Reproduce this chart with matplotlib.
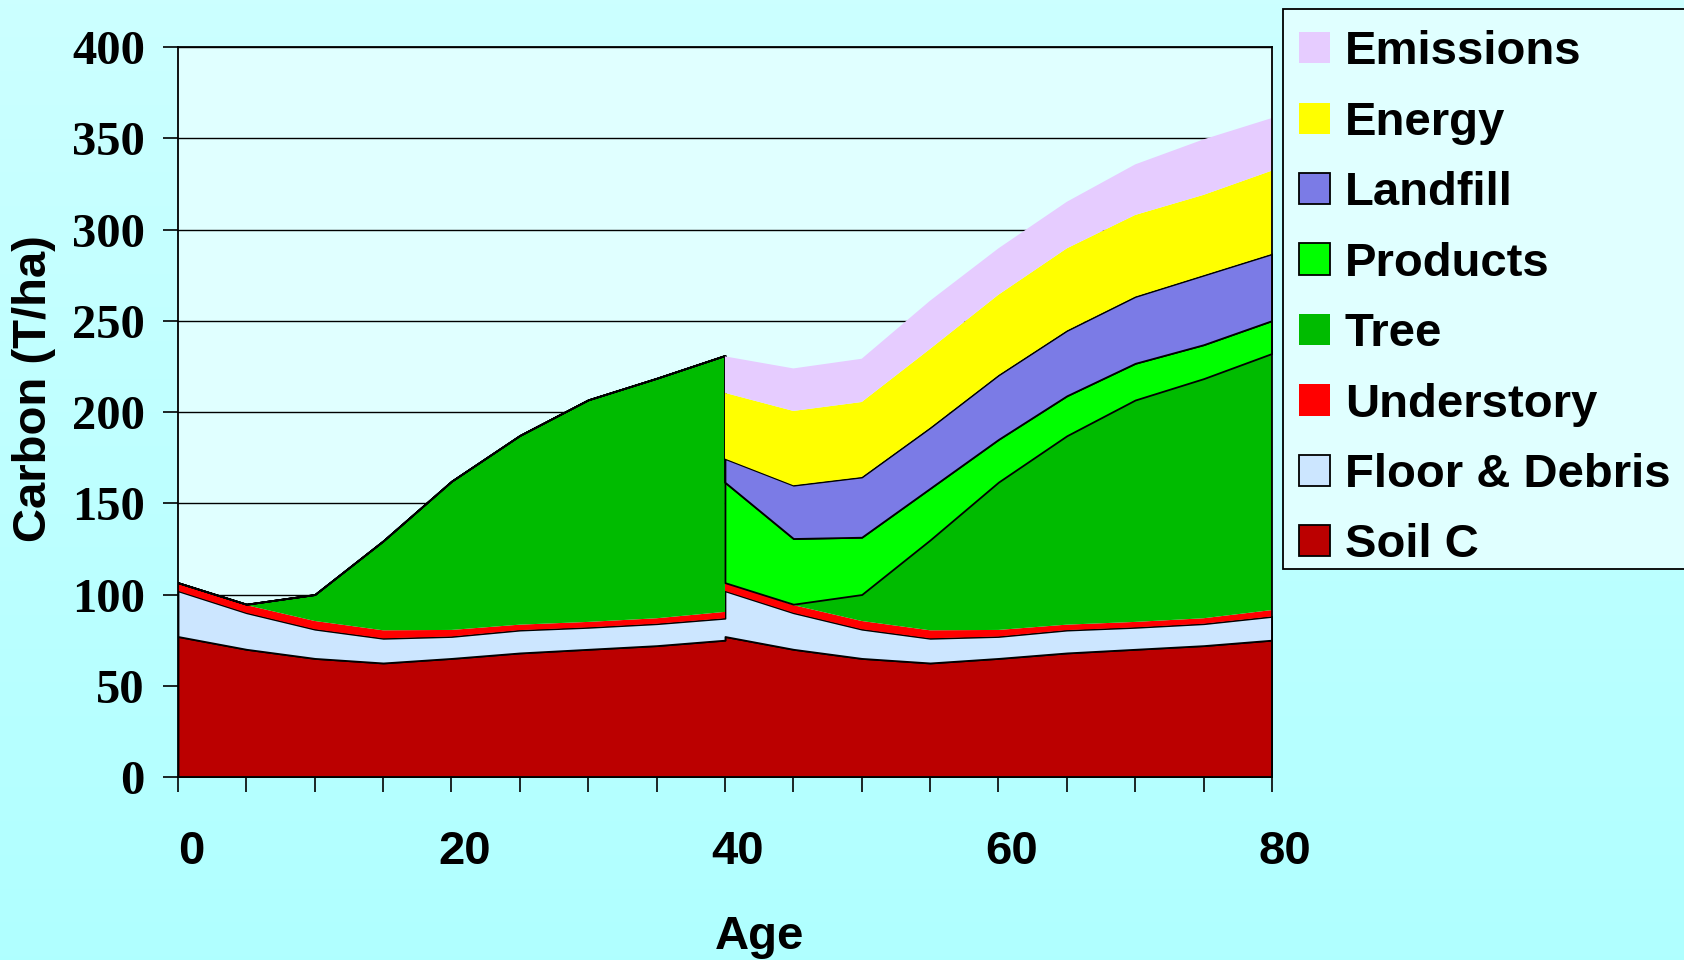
import numpy as np
import matplotlib
matplotlib.use("Agg")
import matplotlib.pyplot as plt
import matplotlib.transforms as mtransforms
from matplotlib.patches import Patch, Rectangle

# stand age, the harvest at 40 gives two points at the same age
ages = [0, 5, 10, 15, 20, 25, 30, 35, 40, 40, 45, 50, 55, 60, 65, 70, 75, 80]

soil = [77, 70, 65, 62.5, 65, 68, 70, 72, 75, 77, 70, 65, 62.5, 65, 68, 70, 72, 75]
floor = [25, 20, 16, 13.5, 12, 12.5, 12, 12, 12, 25, 20, 16, 13.5, 12, 12.5, 12, 12, 13]
understory = [4.5, 4.2, 4.5, 4.4, 3.6, 3, 3, 3, 3.5, 4.5, 4.2, 4.5, 4.4, 3.6, 3, 3, 3, 3.5]
tree = [0, 0.5, 14.5, 49, 81.5, 103.7, 121.7, 131.5, 140.5,
        0, 0.5, 14.5, 49.5, 81, 103.5, 121.6, 131.3, 140.6]
products = [0, 0, 0, 0, 0, 0, 0, 0, 0, 55, 36, 31.4, 28.3, 23.4, 21.9, 20.1, 18.6, 18]
landfill = [0, 0, 0, 0, 0, 0, 0, 0, 0, 13, 29.2, 33, 33.3, 35.3, 35.8, 36.6, 38.1, 36.6]
energy = [0, 0, 0, 0, 0, 0, 0, 0, 0, 36, 40.7, 41.1, 43.1, 44, 45, 44.7, 44, 45.6]
emissions = [0, 0, 0, 0, 0, 0, 0, 0, 0, 20, 23.3, 23.7, 26.4, 25.4, 25.5, 27.7, 30.4, 28.8]

names = ["Soil C", "Floor & Debris", "Understory", "Tree",
         "Products", "Landfill", "Energy", "Emissions"]
colors = ["#BB0000", "#CCE6FF", "#FF0000", "#00BB00",
          "#00FF00", "#7B7BE6", "#FFFF00", "#E6CCFF"]
outlined = [True, True, False, False, True, True, False, False]

sans = "Liberation Sans"
serif = "Liberation Serif"

W, H = 1684, 960
fig = plt.figure(figsize=(W / 100, H / 100), dpi=100)

# gradient background
bg = fig.add_axes([0, 0, 1, 1], zorder=-10)
grad = np.linspace(0, 1, 256).reshape(-1, 1)
top = np.array([0.80, 1.0, 1.0])
bot = np.array([0.69, 1.0, 1.0])
img = top + (bot - top) * grad[:, :, None]
bg.imshow(img, aspect="auto", extent=[0, 1, 0, 1])
bg.axis("off")

ax = fig.add_axes([0.1057, 0.1906, 0.6496, 0.7604])
ax.set_facecolor("#E0FFFF")

series = [soil, floor, understory, tree, products, landfill, energy, emissions]
polys = ax.stackplot(ages, *series, colors=colors, zorder=2)
for p, o in zip(polys, outlined):
    if o:
        p.set_edgecolor("black")
        p.set_linewidth(1.3)
    else:
        p.set_edgecolor("none")

ax.set_xlim(0, 80)
ax.set_ylim(0, 400)
ax.set_yticks(np.arange(0, 401, 50))
ax.yaxis.grid(True, color="black", linewidth=1.0)
ax.set_axisbelow(True)
for s in ax.spines.values():
    s.set_color("black")
    s.set_linewidth(1.3)
    s.set_zorder(5)

ax.set_xticks([0, 20, 40, 60, 80])
ax.set_xticks(np.arange(0, 81, 5), minor=True)
ax.tick_params(axis="x", which="both", direction="out", length=10.8, width=1.2, color="black")
ax.tick_params(axis="x", which="major", pad=27)
ax.tick_params(axis="y", direction="out", length=10.8, width=1.2, pad=13)

for lab in ax.get_xticklabels():
    lab.set_fontfamily(sans)
    lab.set_fontweight("bold")
    lab.set_fontsize(34)
    lab.set_transform(lab.get_transform() +
                      mtransforms.ScaledTranslation(0.13, 0, fig.dpi_scale_trans))
for lab in ax.get_yticklabels():
    lab.set_fontfamily(serif)
    lab.set_fontweight("bold")
    lab.set_fontsize(35)

fig.text(34 / W, 1 - 389 / H, "Carbon (T/ha)", rotation=90, ha="center", va="center",
         fontsize=34, fontweight="bold", family=sans)
fig.text(760 / W, 1 - 937 / H, "Age", ha="center", va="center",
         fontsize=34, fontweight="bold", family=sans)

# legend box drawn separately so the bottom padding matches
box = Rectangle((1283 / W, 1 - 569 / H), (W + 20 - 1283) / W, (569 - 8.6) / H,
                transform=fig.transFigure, facecolor="#E0FFFF", edgecolor="black",
                linewidth=1.3, zorder=4)
fig.patches.append(box)

handles = []
for n, c, o in zip(names[::-1], colors[::-1], outlined[::-1]):
    handles.append(Patch(facecolor=c, edgecolor="black" if o else "none",
                         linewidth=1.3, label=n))
leg = fig.legend(handles=handles, loc="upper left", bbox_to_anchor=(1277.6 / W, 1 - 8.6 / H),
                 prop={"family": sans, "weight": "bold", "size": 34},
                 frameon=False, handlelength=0.64, handleheight=0.64, handletextpad=0.32,
                 borderpad=0.46, labelspacing=0.56, borderaxespad=0)
leg.set_zorder(5)

fig.savefig("out.png", dpi=100)
